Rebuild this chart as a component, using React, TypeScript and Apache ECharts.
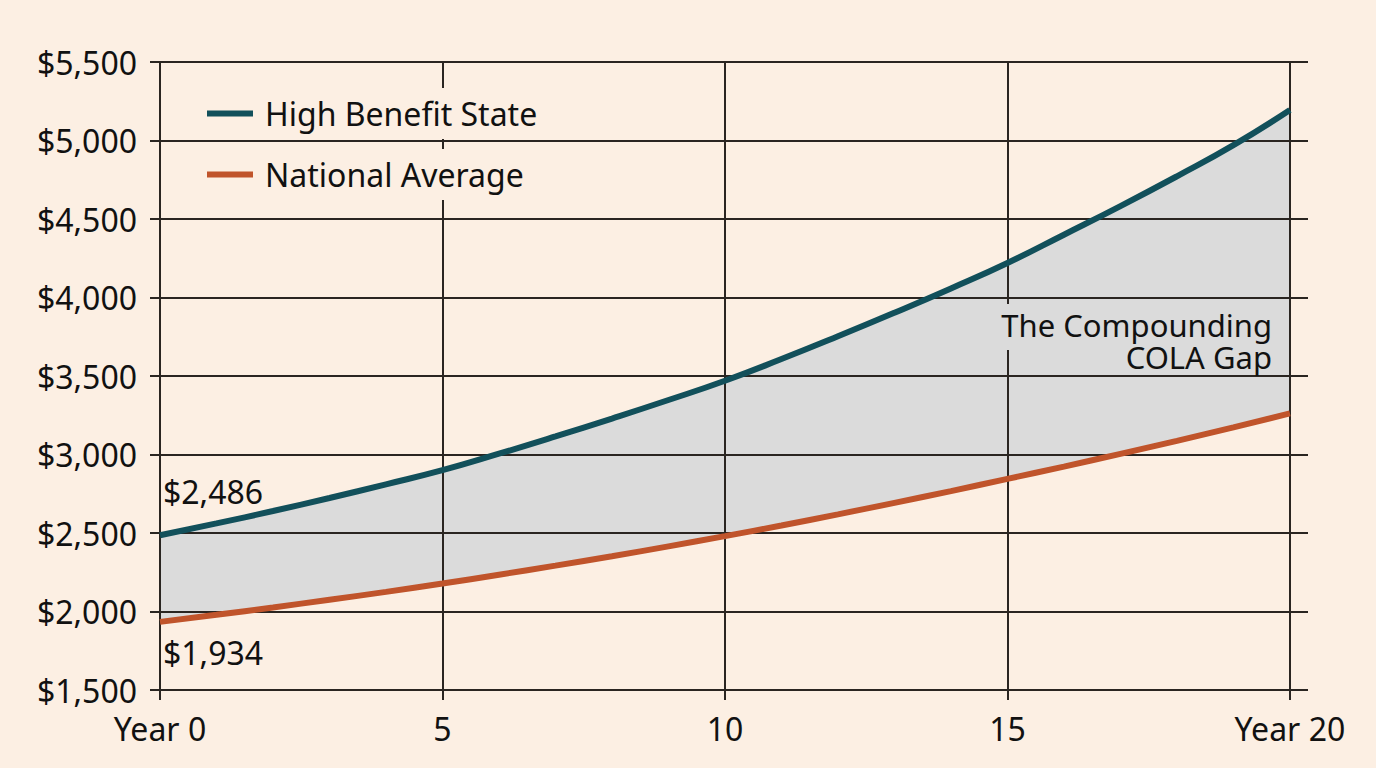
import React, { useEffect, useRef } from "react";
import * as echarts from "echarts";

const years = [0, 1, 2, 3, 4, 5, 6, 7, 8, 9, 10, 11, 12, 13, 14, 15, 16, 17, 18, 19, 20];
const highBenefit = [2486, 2561, 2640, 2723, 2810, 2900, 3005, 3115, 3229, 3347, 3470, 3608, 3753, 3903, 4058, 4220, 4400, 4582, 4772, 4970, 5194];
const nationalAvg = [1934, 1979, 2026, 2075, 2125, 2178, 2234, 2292, 2352, 2415, 2480, 2548, 2619, 2692, 2767, 2845, 2923, 3004, 3087, 3173, 3262];
const xTicks = [0, 5, 10, 15, 20];
const xTickLabels = ["Year 0", "5", "10", "15", "Year 20"];
const seriesNames = ["High Benefit State", "National Average"];
const annotationLines = ["The Compounding", "COLA Gap"];

const BG = "#fcefe3";
const TEAL = "#12505b";
const ORANGE = "#c0542b";
const FILL = "#dbdbdb";
const GRID = "#2a2521";
const FONT = "Noto Sans";

export default function App() {
  const ref = useRef<HTMLDivElement>(null);
  useEffect(() => {
    if (!ref.current) return;
    const chart = echarts.init(ref.current, null, { renderer: "svg" });
    const pairs = (arr: number[]) => years.map((y, i) => [y, arr[i]]);
    const money = (v: number) => "$" + v.toLocaleString("en-US");
    chart.setOption({
      animation: false,
      backgroundColor: BG,
      textStyle: { fontFamily: FONT },
      grid: { left: 160, right: 68, top: 62, bottom: 78, containLabel: false },
      legend: {
        orient: "vertical",
        left: 207,
        top: 88,
        padding: 0,
        itemWidth: 46,
        itemHeight: 6,
        itemGap: 10,
        icon: "rect",
        data: seriesNames,
        textStyle: {
          fontFamily: FONT,
          fontSize: 32,
          color: "#111",
          lineHeight: 36,
          backgroundColor: BG,
          padding: [7, 4, 8, 7],
        },
      },
      xAxis: {
        type: "value",
        min: 0,
        max: 20.32,
        interval: 5,
        z: 3,
        axisLine: { show: false },
        axisTick: {
          show: true,
          length: 10,
          customValues: xTicks,
          lineStyle: { color: GRID, width: 2 },
        },
        axisLabel: {
          customValues: xTicks,
          margin: 22,
          fontFamily: FONT,
          fontSize: 32,
          color: "#111",
          formatter: (v: number) => xTickLabels[xTicks.indexOf(v)] ?? "",
        },
        splitLine: { show: true, lineStyle: { color: GRID, width: 2 } },
      },
      yAxis: {
        type: "value",
        min: 1500,
        max: 5500,
        interval: 500,
        z: 3,
        axisLine: { show: false },
        axisTick: { show: true, length: 10, lineStyle: { color: GRID, width: 2 } },
        axisLabel: {
          margin: 23,
          fontFamily: FONT,
          fontSize: 32,
          color: "#111",
          formatter: (v: number) => money(v),
        },
        splitLine: { show: true, lineStyle: { color: GRID, width: 2 } },
      },
      graphic: [
        {
          type: "rect",
          z: 9,
          silent: true,
          shape: { x: 998, y: 304, width: 276, height: 46 },
          style: { fill: FILL },
        },
        {
          type: "text",
          z: 10,
          style: {
            text: annotationLines.join("\n"),
            x: 1272,
            y: 309,
            align: "right",
            verticalAlign: "top",
            font: `31px "${FONT}"`,
            lineHeight: 32,
            fill: "#111",
          },
        },
      ],
      series: [
        {
          name: "gapFillTop",
          type: "line",
          smooth: true,
          z: 1,
          data: pairs(highBenefit),
          showSymbol: false,
          lineStyle: { width: 0, opacity: 0 },
          areaStyle: { color: FILL, opacity: 1, origin: "start" },
          silent: true,
        },
        {
          name: "gapFillBottom",
          type: "line",
          smooth: true,
          z: 1,
          data: pairs(nationalAvg),
          showSymbol: false,
          lineStyle: { width: 0, opacity: 0 },
          areaStyle: { color: BG, opacity: 1, origin: "start" },
          silent: true,
        },
        {
          name: seriesNames[0],
          type: "line",
          smooth: true,
          z: 5,
          data: pairs(highBenefit),
          showSymbol: false,
          color: TEAL,
          lineStyle: { color: TEAL, width: 6 },
          markPoint: {
            symbol: "circle",
            symbolSize: 0,
            data: [{ coord: [years[0], highBenefit[0]], value: highBenefit[0] }],
            label: {
              show: true,
              position: [3, -60],
              align: "left",
              verticalAlign: "top",
              fontFamily: FONT,
              fontSize: 32,
              color: "#111",
              formatter: (p: any) => money(p.value),
            },
          },
        },
        {
          name: seriesNames[1],
          type: "line",
          smooth: true,
          z: 5,
          data: pairs(nationalAvg),
          showSymbol: false,
          color: ORANGE,
          lineStyle: { color: ORANGE, width: 6 },
          markPoint: {
            symbol: "circle",
            symbolSize: 0,
            data: [{ coord: [years[0], nationalAvg[0]], value: nationalAvg[0] }],
            label: {
              show: true,
              position: [3, 15],
              align: "left",
              verticalAlign: "top",
              fontFamily: FONT,
              fontSize: 32,
              color: "#111",
              formatter: (p: any) => money(p.value),
            },
          },
        },
      ],
    });
    return () => chart.dispose();
  }, []);
  return (
    <div
      ref={ref}
      style={{ position: "fixed", left: 0, top: 0, width: 1376, height: 768, background: BG }}
    />
  );
}
